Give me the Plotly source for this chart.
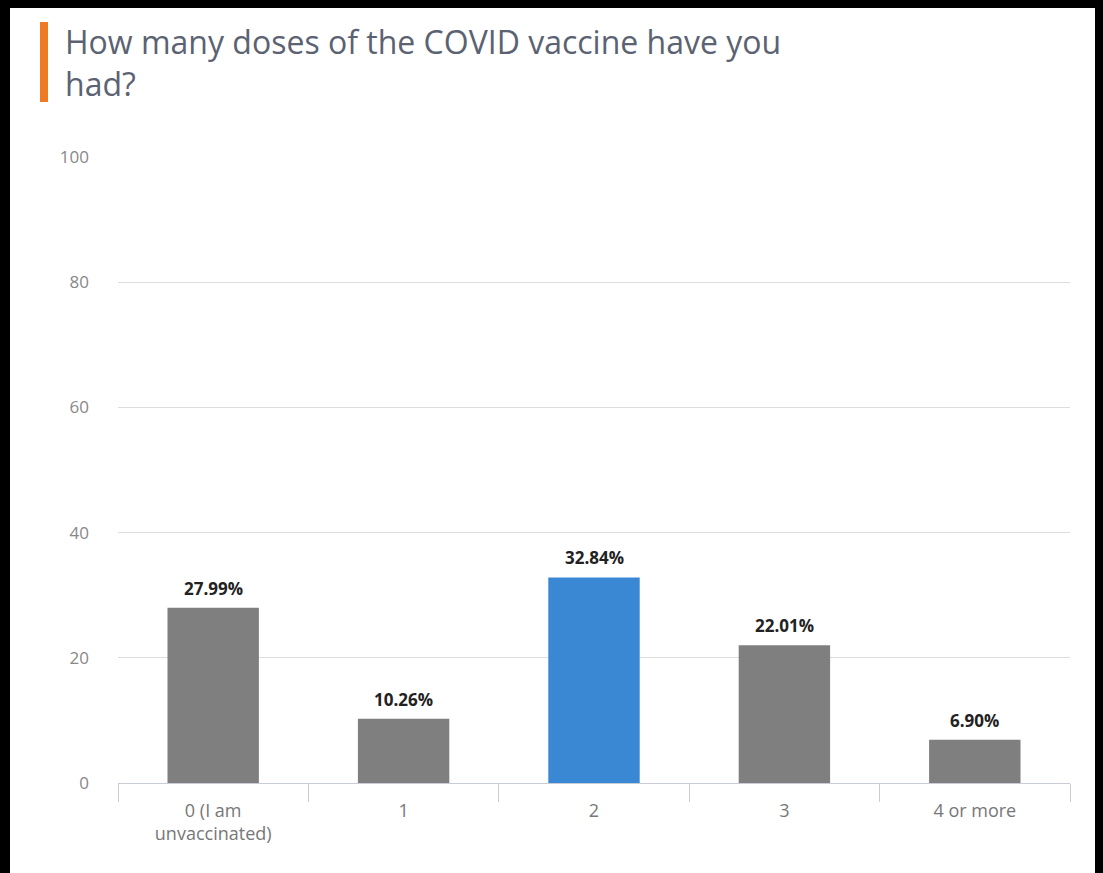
import plotly.graph_objects as go

categories = ["0 (I am<br>unvaccinated)", "1", "2", "3", "4 or more"]
shares = [27.99, 10.26, 32.84, 22.01, 6.90]
bar_colors = ["#7f7f7f", "#7f7f7f", "#3a87d4", "#7f7f7f", "#7f7f7f"]
title_text = "How many doses of the COVID vaccine have you<br>had?"

# the page puts the figure 8px in from the top-left corner
OFF = 8
W, H = 1103 - OFF, 873 - OFF
L, R, T, B = 118 - OFF, 33, 157 - OFF, 90
pw, ph = W - L - R, H - T - B


def px_x(v):
    # screen pixel -> paper coordinate
    return (v - OFF - L) / pw


def px_y(v):
    return (H - B - (v - OFF)) / ph


fig = go.Figure(go.Bar(
    x=categories, y=shares,
    marker=dict(color=bar_colors, line=dict(width=0)),
    hoverinfo="skip",
))

for c, v in zip(categories, shares):
    fig.add_annotation(x=c, y=v, text=f"<b>{v:.2f}%</b>", showarrow=False,
                       yanchor="bottom", yshift=6,
                       font=dict(size=17, color="#222222", family="Open Sans"))

# white card on black frame
fig.add_shape(type="rect", xref="paper", yref="paper", layer="below",
              x0=px_x(0), x1=px_x(1110), y0=px_y(880), y1=px_y(0),
              fillcolor="black", line=dict(width=0))
fig.add_shape(type="rect", xref="paper", yref="paper", layer="below",
              x0=px_x(10), x1=px_x(1100), y0=px_y(880), y1=px_y(7),
              fillcolor="white", line=dict(width=0))
# orange accent
fig.add_shape(type="rect", xref="paper", yref="paper",
              x0=px_x(40), x1=px_x(48), y0=px_y(102), y1=px_y(22),
              fillcolor="#f07a23", line=dict(width=0))

fig.add_annotation(xref="paper", yref="paper", x=px_x(63), y=px_y(18),
                   xanchor="left", yanchor="top", align="left", showarrow=False,
                   text=title_text,
                   font=dict(size=32, color="#5b6272", family="Open Sans"))

fig.update_layout(
    width=W, height=H,
    margin=dict(l=L, r=R, t=T, b=B),
    paper_bgcolor="white", plot_bgcolor="white",
    bargap=0.52, showlegend=False,
    font=dict(family="Open Sans", color="#777777", size=17),
)
fig.update_xaxes(showline=True, linecolor="#c8ccd6", linewidth=1,
                 ticks="outside", tickson="boundaries", ticklen=18,
                 tickcolor="#c8ccd6", ticklabelstandoff=11,
                 tickfont=dict(size=18, color="#777777"),
                 showgrid=False)
fig.update_yaxes(range=[0, 100], tickvals=[0, 20, 40, 60, 80, 100],
                 showgrid=True, gridcolor="#dddddd", zeroline=False,
                 ticklabelstandoff=28, tickfont=dict(size=17, color="#888888"))

# black frame around the page, as in the screenshot
fig.write_html("out.html", post_script="document.body.style.background='black';")
